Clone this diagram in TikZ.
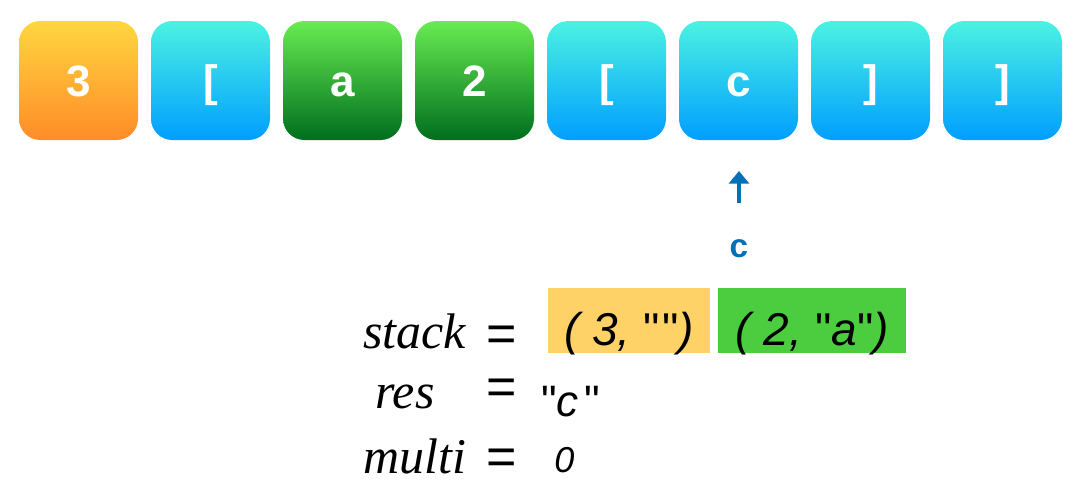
\documentclass[tikz,border=0pt]{standalone}
\usepackage{fontspec}
\usepackage{graphicx}
\setmainfont{Liberation Serif}
\newfontfamily\hsans{Liberation Sans}
\usetikzlibrary{arrows.meta}
\definecolor{orT}{RGB}{255,214,64}
\definecolor{orB}{RGB}{255,140,40}
\definecolor{blT}{RGB}{75,242,226}
\definecolor{blM}{RGB}{0,210,240}
\definecolor{blB}{RGB}{0,158,255}
\definecolor{grT}{RGB}{104,236,82}
\definecolor{grB}{RGB}{0,110,30}
\definecolor{ptr}{RGB}{0,112,184}
\definecolor{stO}{RGB}{255,210,104}
\definecolor{stG}{RGB}{76,205,63}
\newcommand\uq{{\upshape"}}
\begin{document}
\begin{tikzpicture}[x=0.75pt,y=-0.75pt]
\useasboundingbox (0,0) rectangle (1086,500);
\tikzset{
  tile/.style={minimum width=89.25pt, minimum height=89.25pt, rounded corners=16pt,
    inner sep=0pt, text=white, text height=23.6pt, text depth=0pt,
    font=\hsans\bfseries\fontsize{33}{33}\selectfont},
  ortile/.style={tile, top color=orT, bottom color=orB},
  bltile/.style={tile, top color=blT, middle color=blM, bottom color=blB},
  grtile/.style={tile, top color=grT, bottom color=grB},
  ptrlbl/.style={inner sep=0pt, text=ptr, font=\hsans\bfseries\fontsize{25}{25}\selectfont},
  arr/.style={draw=ptr, line width=3.4pt, -{Triangle[width=15pt,length=9.5pt]}},
  varname/.style={inner sep=0pt, font=\itshape\fontsize{37.5}{37.5}\selectfont},
  eqsign/.style={inner sep=0pt, font=\hsans\fontsize{39}{39}\selectfont},
  stackbox/.style={anchor=north west, inner sep=0pt, minimum height=48.75pt,
    text height=36.8pt, text depth=0pt, font=\hsans\itshape\fontsize{34.5}{34.5}\selectfont},
  sval/.style={inner sep=0pt, font=\hsans\itshape\fontsize{33}{33}\selectfont},
  mval/.style={inner sep=0pt, font=\hsans\itshape\fontsize{27}{27}\selectfont}
}
% top row of characters
\node[ortile] (t1) at (78.5,80.5) {3};
\node[bltile] (t2) at (210.5,80.5) {[};
\node[grtile] (t3) at (342.5,80.5) {a};
\node[grtile] (t4) at (474.5,80.5) {2};
\node[bltile] (t5) at (606.5,80.5) {[};
\node[bltile] (t6) at (738.5,80.5) {c};
\node[bltile] (t7) at (870.5,80.5) {]};
\node[bltile] (t8) at (1002.5,80.5) {]};
% pointer
\coordinate (tip) at (739,171);
\node[ptrlbl, anchor=base] (lc) at (739,257) {c};
\draw[arr, shorten <=27pt] (lc.north) -- (tip);
% variables
\node[varname, anchor=base west] (vstack) at (363,348) {stack};
\node[eqsign] (e1) at (501.5,338.5) {=};
\node[stackbox, fill=stO, minimum width=121.5pt] (s1) at (548,288) {( 3, \uq\hspace{2pt}\uq)};
\node[stackbox, fill=stG, minimum width=141pt] (s2) at (718,288) {( 2, \uq a\uq)};
\node[varname, anchor=base west] (vres) at (375,408) {res};
\node[eqsign] (e2) at (501.5,391.5) {=};
\node[sval, anchor=base west] (rv) at (541,416) {\uq c\hspace{4pt}\uq};
\node[varname, anchor=base west] (vmulti) at (363,473) {multi};
\node[eqsign] (e3) at (501.5,462) {=};
\node[mval, anchor=base west] (mv) at (554,472) {0};
\end{tikzpicture}
\end{document}
